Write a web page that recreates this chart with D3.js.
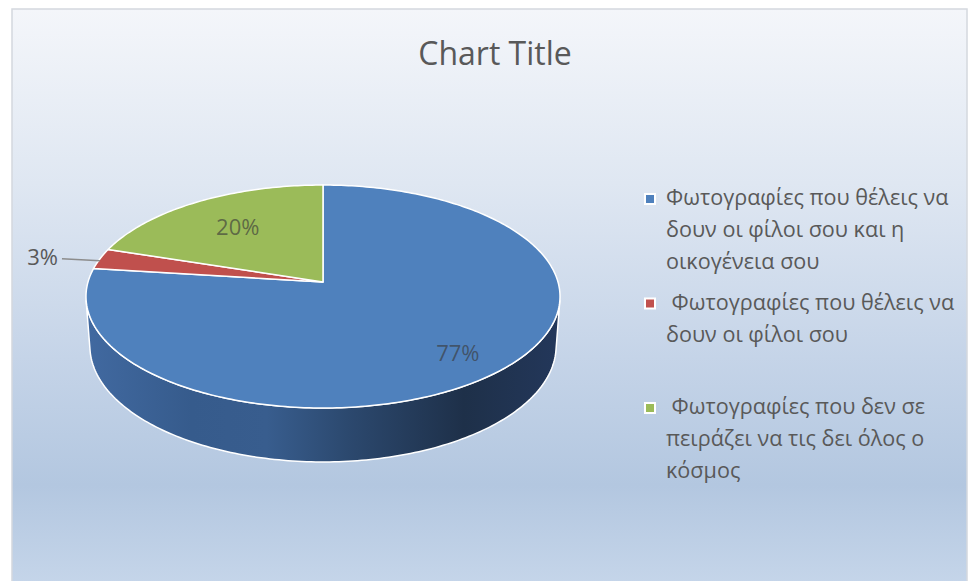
<!DOCTYPE html>
<html>
<head>
<meta charset="utf-8">
<script src="https://cdn.jsdelivr.net/npm/d3@7"></script>
<style>
  body { margin: 0; background: #fff; }
  text { font-family: "Open Sans", sans-serif; }
</style>
</head>
<body>
<div class="PieChart"></div>
<script>
// data
const categories = [
  "Φωτογραφίες που θέλεις να δουν οι φίλοι σου και η οικογένεια σου",
  " Φωτογραφίες που θέλεις να δουν οι φίλοι σου",
  " Φωτογραφίες που δεν σε πειράζει να τις δει όλος ο κόσμος"
];
const values = [77, 3, 20];
const colors = ["#4f81bd", "#c0504d", "#9bbb59"];
const chartTitle = "Chart Title";

const width = 970;
const height = 581;

const svg = d3.select(".PieChart").append("svg")
  .attr("width", width)
  .attr("height", height);

const defs = svg.append("defs");

// background gradient of the chart area
const bg = defs.append("linearGradient")
  .attr("id", "bg")
  .attr("x1", 0).attr("y1", 0).attr("x2", 0).attr("y2", 1);
[[0, "#f4f6fa"], [0.3, "#dfe7f2"], [0.6, "#c5d4e8"], [0.82, "#b3c7e0"], [1, "#c6d6ea"]]
  .forEach(([o, c]) => bg.append("stop").attr("offset", o).attr("stop-color", c));

// side wall shading (left lighter, right darker)
const wall = defs.append("linearGradient")
  .attr("id", "wall")
  .attr("gradientUnits", "userSpaceOnUse")
  .attr("x1", 88).attr("x2", 558).attr("y1", 0).attr("y2", 0);
[[0, "#4169a0"], [0.22, "#365b8c"], [0.38, "#385d8e"], [0.55, "#2c496f"], [0.8, "#1e3049"], [1, "#23375a"]]
  .forEach(([o, c]) => wall.append("stop").attr("offset", o).attr("stop-color", c));

svg.append("rect")
  .attr("x", 12).attr("y", 9)
  .attr("width", 955).attr("height", height)
  .attr("fill", "url(#bg)")
  .attr("stroke", "#d4d8de")
  .attr("stroke-width", 1.5);

// title
svg.append("text")
  .attr("x", 495)
  .attr("y", 65)
  .attr("text-anchor", "middle")
  .style("font-size", "32px")
  .style("fill", "#595959")
  .text(chartTitle);

// perspective projection of the tilted disc
const cx = 323, cy = 282, f = 235;
const tilt = 27.8 * Math.PI / 180;
const dist = 6.8;      // camera distance, in radii
const thick = 0.24;    // pie thickness, in radii

function project(a, y, r = 1) {
  const X = r * Math.sin(a), Z = -r * Math.cos(a);
  const depth = Z * Math.cos(tilt) + y * Math.sin(tilt);
  const s = dist / (dist - depth);
  return [cx + f * X * s, cy + f * (Z * Math.sin(tilt) - y * Math.cos(tilt)) * s];
}

function arcPoints(a0, a1, y) {
  const step = Math.PI / 180;
  return d3.range(a0, a1, step).concat([a1]).map(a => project(a, y));
}

const pie = d3.pie().sort(null).value(d => d);
const arcs = pie(values);
const total = d3.sum(values);
const pct = d3.format(".0%");
const line = d3.line();

// visible part of the outer wall
const k = 1 / (dist * Math.cos(tilt));
const vis0 = Math.acos(-k), vis1 = 2 * Math.PI - Math.acos(-k);

const gWall = svg.append("g");
arcs.forEach((d, i) => {
  const lo = Math.max(d.startAngle, vis0), hi = Math.min(d.endAngle, vis1);
  if (lo >= hi) return;
  const pts = arcPoints(lo, hi, 0).concat(arcPoints(lo, hi, -thick).reverse());
  gWall.append("path")
    .attr("d", line(pts) + "Z")
    .attr("fill", i === 0 ? "url(#wall)" : d3.color(colors[i]).darker(1))
    .attr("stroke", "#fff")
    .attr("stroke-width", 1.5)
    .attr("stroke-linejoin", "round");
});

// top faces
svg.append("g")
  .selectAll("path")
  .data(arcs)
  .enter()
  .append("path")
  .attr("d", d => line([[cx, cy]].concat(arcPoints(d.startAngle, d.endAngle, 0))) + "Z")
  .attr("fill", (d, i) => colors[i])
  .attr("stroke", "#fff")
  .attr("stroke-width", 1.5)
  .attr("stroke-linejoin", "round");

// data labels
const labelRadius = [0.8, 1, 0.66];
const gLab = svg.append("g").style("font-size", "22px");
arcs.forEach((d, i) => {
  const mid = (d.startAngle + d.endAngle) / 2;
  const p = d.value / total;
  if (p < 0.05) {
    const e = project(mid, 0);
    gLab.append("path")
      .attr("d", line([[e[0], e[1] + 2], [e[0] - 38, e[1]]]))
      .attr("stroke", "#8c8c8c")
      .attr("stroke-width", 1.5)
      .attr("fill", "none");
    gLab.append("text")
      .attr("x", e[0] - 42)
      .attr("y", e[1] + 6)
      .attr("text-anchor", "end")
      .style("fill", "#595959")
      .text(pct(p));
  } else {
    const c = project(mid, 0, labelRadius[i]);
    gLab.append("text")
      .attr("x", c[0])
      .attr("y", c[1] + 8)
      .attr("text-anchor", "middle")
      .style("fill", "#3a3a3a")
      .style("fill-opacity", 0.65)
      .text(pct(p));
  }
});

// legend
const legend = svg.append("g")
  .attr("transform", "translate(645,0)")
  .style("font-size", "21.6px")
  .style("fill", "#595959");

categories.forEach((name, i) => {
  const top = 198 + i * 104.5;
  const item = legend.append("g");
  item.append("rect")
    .attr("x", 0).attr("y", top - 4)
    .attr("width", 10).attr("height", 10)
    .attr("fill", colors[i])
    .attr("stroke", "#fff")
    .attr("stroke-width", 2);
  const text = item.append("text")
    .attr("y", top + 7)
    .attr("xml:space", "preserve")
    .style("white-space", "pre");
  // greedy wrap
  const words = name.split(/(?<=\S) /);
  let lines = [], cur = "";
  const probe = item.append("text").attr("xml:space", "preserve").style("white-space", "pre");
  words.forEach(w => {
    const test = cur ? cur + " " + w : w;
    probe.text(test);
    if (cur && probe.node().getComputedTextLength() > 305) {
      lines.push(cur);
      cur = w;
    } else cur = test;
  });
  lines.push(cur);
  probe.remove();
  lines.forEach((l, j) => {
    text.append("tspan")
      .attr("x", 21)
      .attr("dy", j ? 32 : 0)
      .text(j ? l.trim() : l);
  });
});
</script>
</body>
</html>
